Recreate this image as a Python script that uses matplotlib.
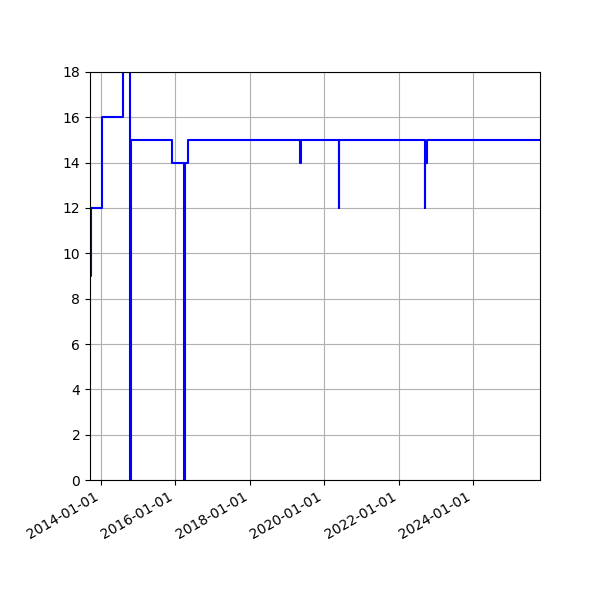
import matplotlib

matplotlib.use("Agg")
import matplotlib.dates as mdates
import matplotlib.pyplot as plt
import numpy as np

# change dates and the value that holds from each date on
dates = [
    "2013-09-15", "2013-09-22", "2014-01-08", "2014-08-01", "2014-10-16",
    "2014-10-19", "2015-11-26", "2016-03-28", "2016-04-06", "2016-04-08",
    "2016-05-06", "2019-05-09", "2019-05-17", "2020-05-26", "2020-05-30",
    "2022-09-16", "2022-09-19", "2022-10-05", "2025-10-20",
]
values = [
    9, 12, 16, 20, 0,
    15, 14, 0, 3, 14,
    15, 14, 15, 12, 15,
    12, 14, 15, 15,
]


def main():
    x = np.array(dates, dtype="datetime64[D]")
    y = np.array(values)

    fig = plt.figure(figsize=(6, 6), dpi=100)
    ax = fig.add_axes([0.15, 0.2, 0.75, 0.68])
    ax.plot(x, y, drawstyle="steps-post", color="blue", linewidth=1.5)

    ax.set_xlim(x[0], x[-1])
    ax.set_ylim(0, 18)
    ax.set_yticks(np.arange(0, 19, 2))
    ax.xaxis.set_major_locator(mdates.YearLocator(2))
    ax.xaxis.set_major_formatter(mdates.DateFormatter("%Y-%m-%d"))
    ax.grid(True)
    for label in ax.get_xticklabels():
        label.set_rotation(30)
        label.set_horizontalalignment("right")

    fig.savefig("out.png")


if __name__ == "__main__":
    main()
